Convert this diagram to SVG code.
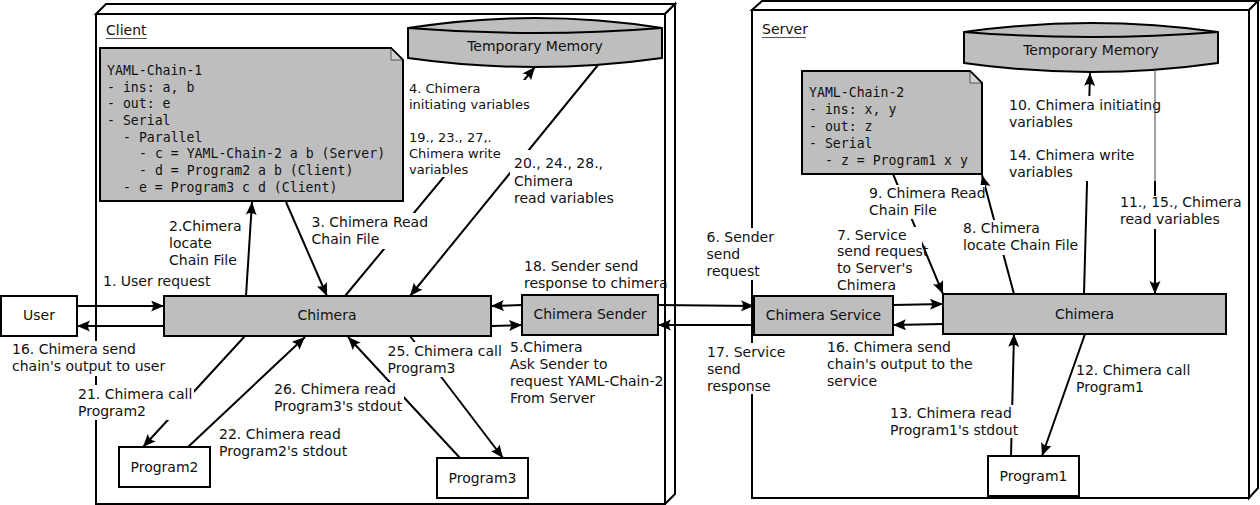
<svg xmlns="http://www.w3.org/2000/svg" width="1260" height="505" viewBox="0 0 1260 505">
<style>
.frame{fill:#fff;stroke:#000;stroke-width:2;stroke-linejoin:miter}
.box{fill:#bebebe;stroke:#000;stroke-width:2}
.wbox{fill:#fff;stroke:#000;stroke-width:2}
.fold{fill:#d2d2d2;stroke:#555;stroke-width:1}
.t{font-family:"DejaVu Sans","Liberation Sans",sans-serif;font-size:14px;fill:#111}
.ts{font-family:"DejaVu Sans","Liberation Sans",sans-serif;font-size:13px;fill:#111}
.mid{text-anchor:middle}
.mono{font-family:"DejaVu Sans Mono","Liberation Mono",monospace;font-size:13.2px;fill:#111}
.c{fill:none;stroke:#000;stroke-width:2;marker-end:url(#ah)}
.bg{fill:#fff;stroke:none}
.ul{stroke:#555;stroke-width:1}
</style>
<defs>
<marker id="ah" markerUnits="userSpaceOnUse" markerWidth="14" markerHeight="12" refX="13" refY="5.5" orient="auto">
<path d="M13,5.5 L0,0 Q4,5.5 0,11 Z" fill="#000"/>
</marker>
</defs>
<rect width="1260" height="505" fill="#fff"/>

<g id="client-frame">
<polygon class="frame" points="96,14 106,4 675,4 665,14"/>
<polygon class="frame" points="665,14 675,4 675,494 665,504"/>
<rect class="frame" x="96" y="14" width="569" height="490"/>
<text class="t" x="106" y="35">Client</text>
<line class="ul" x1="106" y1="38.5" x2="147" y2="38.5"/>
</g>

<g id="server-frame">
<polygon class="frame" points="752,10 762,1 1258,1 1249,10"/>
<polygon class="frame" points="1249,10 1258,1 1258,488 1249,498"/>
<rect class="frame" x="752" y="10" width="497" height="488"/>
<text class="t" x="762" y="34">Server</text>
<line class="ul" x1="762" y1="37.5" x2="806" y2="37.5"/>
</g>

<g id="client-memory">
<path class="box" d="M408,28 Q535,8 662,28 L662,58 Q535,76 408,58 Z"/>
<path fill="none" stroke="#000" stroke-width="2" d="M408,28 Q535,38 662,28"/>
<text class="t mid" x="535" y="51">Temporary Memory</text>
</g>

<g id="client-note">
<polygon class="box" points="100,48 391,48 403,60 403,201 100,201"/>
<polygon class="fold" points="391,49 391,60 402,60"/>
<text class="mono" x="107" y="75">YAML-Chain-1</text>
<text class="mono" x="107" y="91.7">- ins: a, b</text>
<text class="mono" x="107" y="108.3">- out: e</text>
<text class="mono" x="107" y="125">- Serial</text>
<text class="mono" x="123" y="141.7">- Parallel</text>
<text class="mono" x="139" y="158.3">- c = YAML-Chain-2 a b (Server)</text>
<text class="mono" x="139" y="175">- d = Program2 a b (Client)</text>
<text class="mono" x="123" y="191.7">- e = Program3 c d (Client)</text>
</g>

<g id="user">
<rect class="wbox" x="1" y="296" width="76" height="40"/>
<text class="t mid" x="39" y="320">User</text>
</g>

<g id="client-chimera">
<rect class="box" x="164" y="296" width="327" height="40"/>
<text class="t mid" x="327" y="320">Chimera</text>
</g>

<g id="chimera-sender">
<rect class="box" x="522" y="295" width="136" height="40"/>
<text class="t mid" x="590" y="319">Chimera Sender</text>
</g>

<g id="program2">
<rect class="wbox" x="119" y="447" width="91" height="40"/>
<text class="t mid" x="164.5" y="472">Program2</text>
</g>

<g id="program3">
<rect class="wbox" x="437" y="458" width="91" height="40"/>
<text class="t mid" x="482.5" y="483">Program3</text>
</g>

<g id="server-memory">
<path class="box" d="M964,32 Q1091,14 1218,32 L1218,63 Q1091,81 964,63 Z"/>
<path fill="none" stroke="#000" stroke-width="2" d="M964,32 Q1091,42 1218,32"/>
<text class="t mid" x="1091" y="55">Temporary Memory</text>
</g>

<g id="server-note">
<polygon class="box" points="802,71 970,71 982,83 982,174 802,174"/>
<polygon class="fold" points="970,72 970,83 981,83"/>
<text class="mono" x="809" y="97">YAML-Chain-2</text>
<text class="mono" x="809" y="114">- ins: x, y</text>
<text class="mono" x="809" y="131">- out: z</text>
<text class="mono" x="809" y="148">- Serial</text>
<text class="mono" x="825" y="165">- z = Program1 x y</text>
</g>

<g id="chimera-service">
<rect class="box" x="754" y="296" width="139" height="39"/>
<text class="t mid" x="823.5" y="320">Chimera Service</text>
</g>

<g id="server-chimera">
<rect class="box" x="943" y="294" width="283" height="40"/>
<text class="t mid" x="1084.5" y="319">Chimera</text>
</g>

<g id="program1">
<rect class="wbox" x="988" y="456" width="91" height="40"/>
<text class="t mid" x="1033.5" y="481">Program1</text>
</g>

<g id="connectors">
<path class="c" d="M77,306 L164,306"/>
<path class="c" d="M164,326 L77,326"/>
<path class="c" d="M246,296 L252,202"/>
<path class="c" d="M286,202 L327,296"/>
<path class="c" d="M345,296 L535,67"/>
<path class="c" d="M598,65 L410,296"/>
<path class="c" d="M491,326 L522,325"/>
<path class="c" d="M522,305 L491,306"/>
<path class="c" d="M245,336 L143,447"/>
<path class="c" d="M188,447 L305,337"/>
<path class="c" d="M410,336 L503,458"/>
<path class="c" d="M460,458 L348,337"/>
<path class="c" d="M658,305 L754,306"/>
<path class="c" d="M754,325 L658,325"/>
<path class="c" d="M893,305 L943,304"/>
<path class="c" d="M943,324 L893,325"/>
<path class="c" d="M893,174 L943,294"/>
<path class="c" d="M1014,294 L982,175"/>
<path class="c" d="M1084,294 L1090,73"/>
<path class="c" d="M1155,181 L1155,294"/>
<path class="c" d="M1085,334 L1042,456"/>
<path class="c" d="M1011,456 L1014,334"/>
</g>

<g id="labels">
<text class="t" x="103" y="286">1. User request</text>

<rect class="bg" x="11" y="341" width="155" height="35"/>
<text class="t" x="12" y="354">16. Chimera send<tspan x="12" dy="17">chain's output to user</tspan></text>

<text class="t" x="169" y="231">2.Chimera<tspan x="169" dy="17">locate</tspan><tspan x="169" dy="17">Chain File</tspan></text>

<rect class="bg" x="310" y="213" width="119" height="36"/>
<text class="t" x="311.5" y="227">3. Chimera Read<tspan x="311.5" dy="17">Chain File</tspan></text>

<rect class="bg" x="408" y="80" width="124" height="48"/>
<text class="ts" x="409" y="93">4. Chimera<tspan x="409" dy="16">initiating variables</tspan></text>

<rect class="bg" x="408" y="128" width="94" height="49"/>
<text class="ts" x="409" y="142">19., 23., 27,.<tspan x="409" dy="16">Chimera write</tspan><tspan x="409" dy="16">variables</tspan></text>

<rect class="bg" x="510" y="150" width="107" height="58"/>
<text class="t" x="514" y="168">20., 24., 28.,<tspan x="514" dy="17.5">Chimera</tspan><tspan x="514" dy="17.5">read variables</tspan></text>

<text class="t" x="524" y="271">18. Sender send<tspan x="524" dy="17">response to chimera</tspan></text>

<text class="t" x="510" y="352">5.Chimera<tspan x="510" dy="17">Ask Sender to</tspan><tspan x="510" dy="17">request YAML-Chain-2</tspan><tspan x="510" dy="17">From Server</tspan></text>

<rect class="bg" x="77" y="385" width="117" height="35"/>
<text class="t" x="78" y="399">21. Chimera call<tspan x="78" dy="17">Program2</tspan></text>

<text class="t" x="219" y="439">22. Chimera read<tspan x="219" dy="17">Program2's stdout</tspan></text>

<rect class="bg" x="386" y="342" width="117" height="35"/>
<text class="t" x="387.5" y="356">25. Chimera call<tspan x="387.5" dy="17">Program3</tspan></text>

<rect class="bg" x="273" y="382" width="131" height="34"/>
<text class="t" x="274" y="394">26. Chimera read<tspan x="274" dy="17">Program3's stdout</tspan></text>

<rect class="bg" x="705" y="228" width="70" height="52"/>
<text class="t" x="706.5" y="242">6. Sender<tspan x="706.5" dy="17">send</tspan><tspan x="706.5" dy="17">request</tspan></text>

<rect class="bg" x="706" y="343" width="80" height="51"/>
<text class="t" x="707" y="357">17. Service<tspan x="707" dy="17">send</tspan><tspan x="707" dy="17">response</tspan></text>

<rect class="bg" x="868" y="185" width="117" height="34"/>
<text class="t" x="869" y="198">9. Chimera Read<tspan x="869" dy="17">Chain File</tspan></text>

<rect class="bg" x="836" y="227" width="86" height="65"/>
<text class="t" x="837" y="239.5">7. Service<tspan x="837" dy="16.8">send request</tspan><tspan x="837" dy="16.8">to Server's</tspan><tspan x="837" dy="16.8">Chimera</tspan></text>

<rect class="bg" x="962" y="220" width="119" height="35"/>
<text class="t" x="963" y="233">8. Chimera<tspan x="963" dy="17">locate Chain File</tspan></text>

<rect class="bg" x="1008" y="96" width="153" height="35"/>
<text class="t" x="1009" y="110">10. Chimera initiating<tspan x="1009" dy="17">variables</tspan></text>

<rect class="bg" x="1008" y="131" width="126" height="50"/>
<text class="t" x="1009" y="160">14. Chimera write<tspan x="1009" dy="17">variables</tspan></text>

<rect class="bg" x="1119" y="196" width="123" height="33"/>
<text class="t" x="1120" y="207">11., 15., Chimera<tspan x="1120" dy="17">read variables</tspan></text>

<text class="t" x="827" y="352">16. Chimera send<tspan x="827" dy="17">chain's output to the</tspan><tspan x="827" dy="17">service</tspan></text>

<text class="t" x="1076" y="375">12. Chimera call<tspan x="1076" dy="17">Program1</tspan></text>

<rect class="bg" x="889" y="405" width="131" height="33"/>
<text class="t" x="890" y="418">13. Chimera read<tspan x="890" dy="17">Program1's stdout</tspan></text>
</g>

<g id="connector-thin">
<line x1="1155" y1="70" x2="1155" y2="181" stroke="#444" stroke-width="1"/>
</g>
</svg>
